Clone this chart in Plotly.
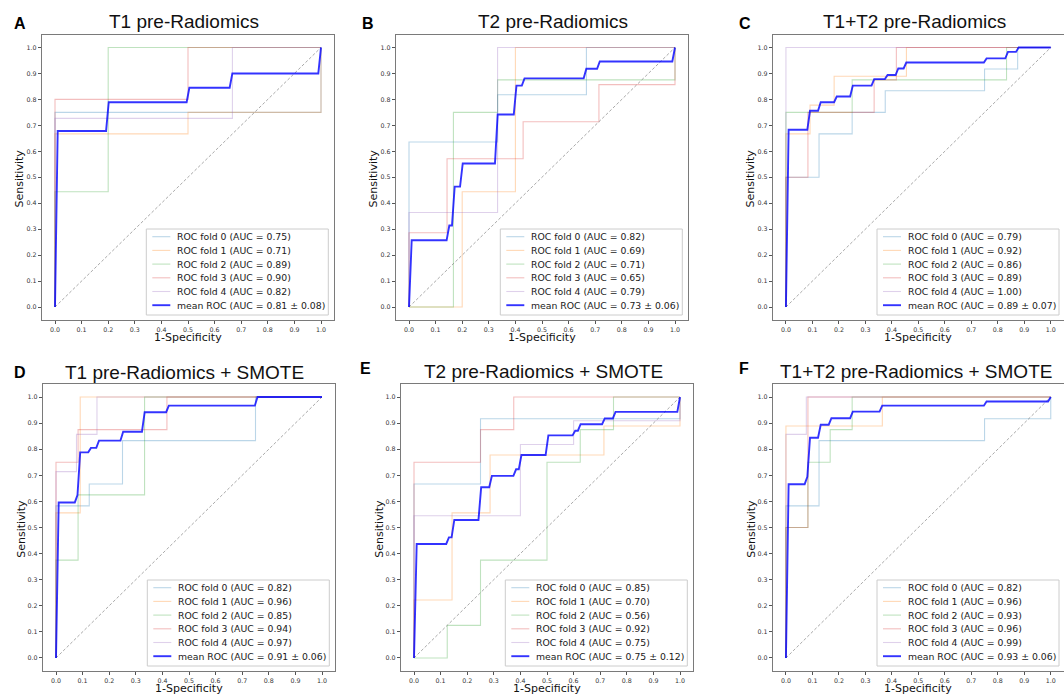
import plotly.graph_objects as go

# ---------------- data ----------------
PANEL_LETTERS = ["A", "B", "C", "D", "E", "F"]
PANEL_TITLES = ["T1 pre-Radiomics", "T2 pre-Radiomics", "T1+T2 pre-Radiomics",
                "T1 pre-Radiomics + SMOTE", "T2 pre-Radiomics + SMOTE",
                "T1+T2 pre-Radiomics + SMOTE"]
TICK_VALUES = [0.0, 0.1, 0.2, 0.3, 0.4, 0.5, 0.6, 0.7, 0.8, 0.9, 1.0]
TICK_LABELS = ["0.0", "0.1", "0.2", "0.3", "0.4", "0.5", "0.6", "0.7", "0.8", "0.9", "1.0"]
X_TITLE = "1-Specificity"
Y_TITLE = "Sensitivity"
FOLD_NAMES = ["ROC fold 0", "ROC fold 1", "ROC fold 2", "ROC fold 3", "ROC fold 4"]
CHANCE_X = [0, 1]
CHANCE_Y = [0, 1]

# Panel A: T1 pre-Radiomics
A_FPR = [[0, 0, 1, 1],
         [0, 0, 0.5, 0.5, 1, 1],
         [0, 0, 0.2, 0.2, 1],
         [0, 0, 0.5, 0.5, 1],
         [0, 0, 0.667, 0.667, 1]]
A_TPR = [[0, 0.75, 0.75, 1],
         [0, 0.667, 0.667, 0.75, 0.75, 1],
         [0, 0.444, 0.444, 1, 1],
         [0, 0.8, 0.8, 1, 1],
         [0, 0.727, 0.727, 1, 1]]
A_AUC = [0.75, 0.71, 0.89, 0.90, 0.82]
A_MEAN_FPR = [0, 0.0101, 0.1919, 0.2020, 0.4949, 0.5051, 0.6566, 0.6667, 0.9899, 1]
A_MEAN_TPR = [0, 0.678, 0.678, 0.789, 0.789, 0.845, 0.845, 0.9, 0.9, 1]
A_MEAN_AUC, A_STD_AUC = 0.81, 0.08

# Panel B: T2 pre-Radiomics
B_FPR = [[0, 0, 0.333, 0.333, 0.667, 0.667, 1],
         [0, 0.2, 0.2, 0.4, 0.4, 1],
         [0, 0.167, 0.167, 0.333, 0.333, 1, 1],
         [0, 0, 0.143, 0.143, 0.429, 0.429, 0.714, 0.714, 1, 1],
         [0, 0, 0.333, 0.333, 1]]
B_TPR = [[0, 0.636, 0.636, 0.818, 0.818, 1, 1],
         [0, 0, 0.444, 0.444, 1, 1],
         [0, 0, 0.75, 0.75, 0.875, 0.875, 1],
         [0, 0.286, 0.286, 0.571, 0.571, 0.714, 0.714, 0.857, 0.857, 1],
         [0, 0.364, 0.364, 1, 1]]
B_AUC = [0.82, 0.69, 0.71, 0.65, 0.79]
B_MEAN_FPR = [0, 0.0101, 0.1414, 0.1515, 0.1616, 0.1717, 0.1919, 0.2020, 0.3232, 0.3333,
              0.3939, 0.4040, 0.4242, 0.4343, 0.6566, 0.6667, 0.7071, 0.7172, 0.9899, 1]
B_MEAN_TPR = [0, 0.257, 0.257, 0.314, 0.314, 0.464, 0.464, 0.553, 0.553, 0.742,
              0.742, 0.853, 0.853, 0.881, 0.881, 0.918, 0.918, 0.946, 0.946, 1]
B_MEAN_AUC, B_STD_AUC = 0.73, 0.06

# Panel C: T1+T2 pre-Radiomics
C_FPR = [[0, 0, 0.125, 0.125, 0.25, 0.25, 0.375, 0.375, 0.75, 0.75, 0.875, 0.875, 1],
         [0, 0, 0.091, 0.091, 0.182, 0.182, 0.455, 0.455, 1],
         [0, 0, 0.25, 0.25, 0.833, 0.833, 1],
         [0, 0, 0.083, 0.083, 0.333, 0.333, 0.417, 0.417, 1],
         [0, 0, 1]]
C_TPR = [[0, 0.5, 0.5, 0.667, 0.667, 0.75, 0.75, 0.833, 0.833, 0.917, 0.917, 1, 1],
         [0, 0.667, 0.667, 0.778, 0.778, 0.889, 0.889, 1, 1],
         [0, 0.75, 0.75, 0.875, 0.875, 1, 1],
         [0, 0.5, 0.5, 0.75, 0.75, 0.875, 0.875, 1, 1],
         [0, 1, 1]]
C_AUC = [0.79, 0.92, 0.86, 0.89, 1.00]
C_MEAN_FPR = [0, 0.0101, 0.0808, 0.0909, 0.1212, 0.1313, 0.1818, 0.1919, 0.2424, 0.2525,
              0.3232, 0.3333, 0.3737, 0.3838, 0.4141, 0.4242, 0.4444, 0.4545, 0.7475, 0.7576,
              0.8283, 0.8384, 0.8687, 0.8788, 1]
C_MEAN_TPR = [0, 0.683, 0.683, 0.756, 0.756, 0.789, 0.789, 0.811, 0.811, 0.853,
              0.853, 0.878, 0.878, 0.894, 0.894, 0.919, 0.919, 0.942, 0.942, 0.958,
              0.958, 0.983, 0.983, 1, 1]
C_MEAN_AUC, C_STD_AUC = 0.89, 0.07

# Panel D: T1 pre-Radiomics + SMOTE
D_FPR = [[0, 0, 0.125, 0.125, 0.25, 0.25, 0.75, 0.75, 1],
         [0, 0, 0.091, 0.091, 1],
         [0, 0, 0.083, 0.083, 0.333, 0.333, 1],
         [0, 0, 0.083, 0.083, 0.417, 0.417, 1],
         [0, 0, 0.077, 0.077, 0.154, 0.154, 1]]
D_TPR = [[0, 0.583, 0.583, 0.667, 0.667, 0.833, 0.833, 1, 1],
         [0, 0.556, 0.556, 1, 1],
         [0, 0.375, 0.375, 0.625, 0.625, 1, 1],
         [0, 0.75, 0.75, 0.875, 0.875, 1, 1],
         [0, 0.714, 0.714, 0.857, 0.857, 1, 1]]
D_AUC = [0.82, 0.96, 0.85, 0.94, 0.97]
D_MEAN_FPR = [0, 0.0101, 0.0707, 0.0808, 0.0909, 0.1212, 0.1313, 0.1515, 0.1616, 0.2424,
              0.2525, 0.3232, 0.3333, 0.4141, 0.4242, 0.7475, 0.7576, 1]
D_MEAN_TPR = [0, 0.596, 0.596, 0.624, 0.788, 0.788, 0.805, 0.805, 0.833, 0.833,
              0.867, 0.867, 0.942, 0.942, 0.967, 0.967, 1, 1]
D_MEAN_AUC, D_STD_AUC = 0.91, 0.06

# Panel E: T2 pre-Radiomics + SMOTE
E_FPR = [[0, 0, 0.25, 0.25, 1, 1],
         [0, 0, 0.143, 0.143, 0.286, 0.286, 0.714, 0.714, 1, 1],
         [0, 0.125, 0.125, 0.25, 0.25, 0.5, 0.5, 0.625, 0.625, 0.75, 0.75, 1],
         [0, 0, 0.25, 0.25, 0.375, 0.375, 1],
         [0, 0, 0.4, 0.4, 0.6, 0.6, 1, 1]]
E_TPR = [[0, 0.667, 0.667, 0.917, 0.917, 1],
         [0, 0.222, 0.222, 0.556, 0.556, 0.778, 0.778, 0.889, 0.889, 1],
         [0, 0, 0.125, 0.125, 0.375, 0.375, 0.75, 0.75, 0.875, 0.875, 1, 1],
         [0, 0.75, 0.75, 0.875, 0.875, 1, 1],
         [0, 0.545, 0.545, 0.818, 0.818, 0.909, 0.909, 1]]
E_AUC = [0.85, 0.70, 0.56, 0.92, 0.75]
E_MEAN_FPR = [0, 0.0101, 0.1212, 0.1313, 0.1414, 0.1515, 0.2424, 0.2525, 0.2828, 0.2929,
              0.3737, 0.3838, 0.3939, 0.4040, 0.4949, 0.5051, 0.5960, 0.6061, 0.6162, 0.6263,
              0.7071, 0.7172, 0.7475, 0.7576, 0.9899, 1]
E_MEAN_TPR = [0, 0.437, 0.437, 0.462, 0.462, 0.529, 0.529, 0.654, 0.654, 0.698,
              0.698, 0.723, 0.723, 0.778, 0.778, 0.853, 0.853, 0.871, 0.871, 0.896,
              0.896, 0.918, 0.918, 0.943, 0.943, 1]
E_MEAN_AUC, E_STD_AUC = 0.75, 0.12

# Panel F: T1+T2 pre-Radiomics + SMOTE
F_FPR = [[0, 0, 0.125, 0.125, 0.75, 0.75, 1, 1],
         [0, 0, 0.364, 0.364, 1],
         [0, 0, 0.083, 0.083, 0.167, 0.167, 0.25, 0.25, 1],
         [0, 0, 0.083, 0.083, 1],
         [0, 0, 0.077, 0.077, 1]]
F_TPR = [[0, 0.583, 0.583, 0.833, 0.833, 0.917, 0.917, 1],
         [0, 0.889, 0.889, 1, 1],
         [0, 0.5, 0.5, 0.75, 0.75, 0.875, 0.875, 1, 1],
         [0, 0.5, 0.5, 1, 1],
         [0, 0.857, 0.857, 1, 1]]
F_AUC = [0.82, 0.96, 0.93, 0.96, 0.99]
F_MEAN_FPR = [0, 0.0101, 0.0707, 0.0808, 0.0909, 0.1212, 0.1313, 0.1616, 0.1717, 0.2424,
              0.2525, 0.3535, 0.3636, 0.7475, 0.7576, 0.9899, 1]
F_MEAN_TPR = [0, 0.666, 0.666, 0.694, 0.844, 0.844, 0.894, 0.894, 0.919, 0.919,
              0.944, 0.944, 0.967, 0.967, 0.983, 0.983, 1]
F_MEAN_AUC, F_STD_AUC = 0.93, 0.06

PANELS = [
    (A_FPR, A_TPR, A_AUC, A_MEAN_FPR, A_MEAN_TPR, A_MEAN_AUC, A_STD_AUC),
    (B_FPR, B_TPR, B_AUC, B_MEAN_FPR, B_MEAN_TPR, B_MEAN_AUC, B_STD_AUC),
    (C_FPR, C_TPR, C_AUC, C_MEAN_FPR, C_MEAN_TPR, C_MEAN_AUC, C_STD_AUC),
    (D_FPR, D_TPR, D_AUC, D_MEAN_FPR, D_MEAN_TPR, D_MEAN_AUC, D_STD_AUC),
    (E_FPR, E_TPR, E_AUC, E_MEAN_FPR, E_MEAN_TPR, E_MEAN_AUC, E_STD_AUC),
    (F_FPR, F_TPR, F_AUC, F_MEAN_FPR, F_MEAN_TPR, F_MEAN_AUC, F_STD_AUC),
]

# ---------------- layout / style ----------------
W, H = 1064, 695
# axes frames in pixels: (left, right, top, bottom)
FRAMES = [(41.7, 334.3, 34.5, 320), (395.7, 688.3, 34.5, 320), (772.7, 1064, 34.5, 320),
          (42.7, 335.3, 384, 671), (400.7, 693.3, 384, 671), (772.7, 1064, 384, 671)]
TITLE_POS = [(184, 22), (553, 22), (914, 22), (184, 372), (543, 371.5), (916, 371.5)]
LETTER_POS = [(12, 23.5), (360, 23.5), (737, 23.5), (12, 372), (358, 368.5), (737, 368.5)]

FOLD_COLORS = ["rgba(31,119,180,0.3)", "rgba(255,127,14,0.3)", "rgba(44,160,44,0.3)",
               "rgba(214,39,40,0.3)", "rgba(148,103,189,0.3)"]
MEAN_COLOR = "rgba(0,0,255,0.8)"
TICK_FONT = dict(family="DejaVu Sans", size=6.3, color="#333333")
AXTITLE_FONT = dict(family="DejaVu Sans", size=11, color="#111111")
LEG_FONT = dict(family="DejaVu Sans", size=9.3, color="#1a1a1a")


def px_x(p):
    return p / W


def px_y(p):
    return 1 - p / H


fig = go.Figure()
layout = dict(width=W, height=H, margin=dict(l=0, r=0, t=0, b=0),
              paper_bgcolor="white", plot_bgcolor="white", showlegend=False,
              autosize=False)
annotations = []
shapes = []

for i, (fpr_list, tpr_list, aucs, mfpr, mtpr, mauc, sauc) in enumerate(PANELS):
    n = "" if i == 0 else str(i + 1)
    x0, x1, y0, y1 = FRAMES[i]
    axis_common = dict(range=[-0.05, 1.05], tickvals=TICK_VALUES, ticktext=TICK_LABELS,
                       ticks="outside", ticklen=3, tickwidth=0.8, tickcolor="#555555",
                       tickfont=TICK_FONT, showline=True, mirror=True, linecolor="#7a7a7a",
                       linewidth=1, showgrid=False, zeroline=False, fixedrange=True)
    layout["xaxis" + n] = dict(axis_common, domain=[px_x(x0), px_x(x1)], anchor="y" + n)
    layout["yaxis" + n] = dict(axis_common, domain=[px_y(y1), px_y(y0)], anchor="x" + n)

    for k in range(5):
        fig.add_trace(go.Scatter(x=fpr_list[k], y=tpr_list[k], mode="lines",
                                 line=dict(color=FOLD_COLORS[k], width=1.1),
                                 name=f"{FOLD_NAMES[k]} (AUC = {aucs[k]:.2f})",
                                 xaxis="x" + n, yaxis="y" + n, hoverinfo="skip"))
    fig.add_trace(go.Scatter(x=CHANCE_X, y=CHANCE_Y, mode="lines",
                             line=dict(color="rgba(120,120,120,0.8)", width=0.8, dash="3px,2px"),
                             xaxis="x" + n, yaxis="y" + n, hoverinfo="skip", name="chance"))
    fig.add_trace(go.Scatter(x=mfpr, y=mtpr, mode="lines",
                             line=dict(color=MEAN_COLOR, width=1.9),
                             name=f"mean ROC (AUC = {mauc:.2f} \u00b1 {sauc:.2f})",
                             xaxis="x" + n, yaxis="y" + n, hoverinfo="skip"))

    # axis titles
    annotations.append(dict(text=X_TITLE, x=px_x((x0 + x1) / 2), y=px_y(y1 + 17.5),
                            xref="paper", yref="paper", xanchor="center", yanchor="middle",
                            showarrow=False, font=AXTITLE_FONT))
    annotations.append(dict(text=Y_TITLE, x=px_x(x0 - 22), y=px_y((y0 + y1) / 2 + 1.5),
                            xref="paper", yref="paper", xanchor="center", yanchor="middle",
                            textangle=-90, showarrow=False, font=AXTITLE_FONT))

    # titles and panel letters
    tx, ty = TITLE_POS[i]
    annotations.append(dict(text=PANEL_TITLES[i], x=px_x(tx), y=px_y(ty), xref="paper",
                            yref="paper", xanchor="center", yanchor="middle", showarrow=False,
                            font=dict(family="Liberation Sans", size=19, color="#111111")))
    lx, ly = LETTER_POS[i]
    annotations.append(dict(text="<b>" + PANEL_LETTERS[i] + "</b>", x=px_x(lx), y=px_y(ly),
                            xref="paper", yref="paper", xanchor="left", yanchor="middle",
                            showarrow=False,
                            font=dict(family="Liberation Sans", size=16, color="#000000")))

    # legend box (lower right)
    bw, bh = 182, 86
    br = x1 - 6 if x1 < W else W - 5
    bb = y1 - 5
    bl, bt = br - bw, bb - bh
    shapes.append(dict(type="rect", xref="paper", yref="paper", x0=px_x(bl), x1=px_x(br),
                       y0=px_y(bb), y1=px_y(bt), line=dict(color="#cccccc", width=1),
                       fillcolor="rgba(255,255,255,0.8)", layer="above"))
    labels = [f"{FOLD_NAMES[k]} (AUC = {aucs[k]:.2f})" for k in range(5)]
    labels.append(f"mean ROC (AUC = {mauc:.2f} \u00b1 {sauc:.2f})")
    colors = FOLD_COLORS + [MEAN_COLOR]
    widths = [1.1] * 5 + [1.9]
    for k in range(6):
        ey = bt + 7.7 + 13.7 * k
        shapes.append(dict(type="line", xref="paper", yref="paper", x0=px_x(bl + 6),
                           x1=px_x(bl + 24), y0=px_y(ey), y1=px_y(ey),
                           line=dict(color=colors[k], width=widths[k]), layer="above"))
        annotations.append(dict(text=labels[k], x=px_x(bl + 29), y=px_y(ey), xref="paper",
                                yref="paper", xanchor="left", yanchor="middle",
                                showarrow=False, font=LEG_FONT))

layout["annotations"] = annotations
layout["shapes"] = shapes
fig.update_layout(**layout)

fig.write_html("out.html", config={"displayModeBar": False},
               post_script="document.body.style.margin='0';document.body.style.overflow='hidden';")
